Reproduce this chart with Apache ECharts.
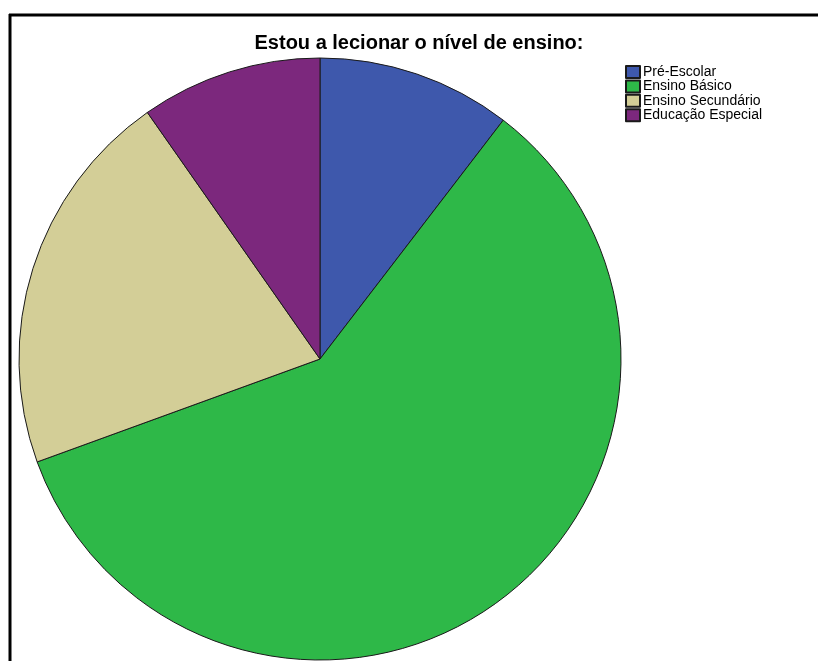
<!DOCTYPE html>
<html>
<head>
<meta charset="utf-8">
<script src="https://cdn.jsdelivr.net/npm/echarts@6/dist/echarts.min.js"></script>
<style>
html,body{margin:0;padding:0;background:#fff;}
#chart{width:818px;height:661px;}
</style>
</head>
<body>
<div id="chart"></div>
<script>
const titleText = "Estou a lecionar o nível de ensino:";
const categories = ["Pré-Escolar", "Ensino Básico", "Ensino Secundário", "Educação Especial"];
const counts = [15, 85, 30, 14];
const colors = ["#3e58ac", "#2eb848", "#d3ce97", "#7c287d"];

const chart = echarts.init(document.getElementById('chart'), null, {renderer: 'canvas'});
chart.setOption({
  animation: false,
  backgroundColor: '#fff',
  title: {
    text: titleText,
    left: 419, top: 33, textAlign: 'center', padding: 0,
    textStyle: {fontFamily: 'Liberation Sans, Arial, sans-serif', fontSize: 20, fontWeight: 'bold', color: '#000'}
  },
  legend: {
    orient: 'vertical',
    left: 625, top: 65, padding: 0,
    icon: 'rect',
    itemWidth: 14, itemHeight: 12, itemGap: 0.4,
    textStyle: {fontFamily: 'Liberation Sans, Arial, sans-serif', fontSize: 14, lineHeight: 12, color: '#000', padding: [0,0,0,-2]},
    data: categories
  },
  graphic: [
    {type: 'line', shape: {x1: 9, y1: 15, x2: 818, y2: 15}, style: {stroke: '#000', lineWidth: 3}},
    {type: 'line', shape: {x1: 10, y1: 14, x2: 10, y2: 661}, style: {stroke: '#000', lineWidth: 3}}
  ],
  series: [{
    type: 'pie',
    center: [320, 359],
    radius: [0, 301],
    startAngle: 90,
    clockwise: true,
    label: {show: false},
    labelLine: {show: false},
    emphasis: {disabled: true},
    itemStyle: {borderColor: '#1a1a1a', borderWidth: 1},
    data: categories.map((c, i) => ({name: c, value: counts[i], itemStyle: {color: colors[i]}}))
  }]
});
</script>
</body>
</html>
